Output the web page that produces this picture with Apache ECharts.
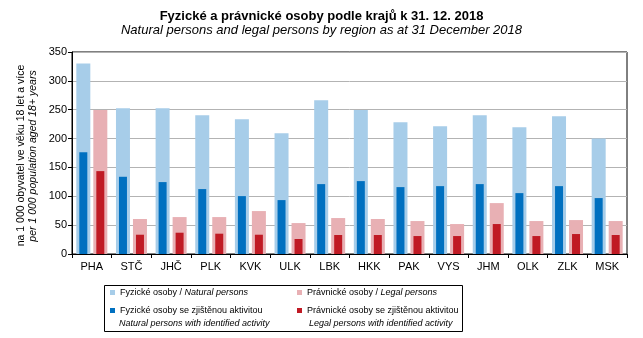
<!DOCTYPE html>
<html>
<head>
<meta charset="utf-8">
<script src="https://cdn.jsdelivr.net/npm/echarts@6/dist/echarts.min.js"></script>
<style>
html,body{margin:0;padding:0;background:#fff;}
#c{width:643px;height:338px;}
</style>
</head>
<body>
<div id="c"></div>
<script>
const categories = ['PHA','STČ','JHČ','PLK','KVK','ULK','LBK','HKK','PAK','VYS','JHM','OLK','ZLK','MSK'];
const natural = [330, 252.6, 252.6, 240.5, 233.6, 209.3, 266.4, 249.7, 228.4, 221.5, 240.5, 219.7, 238.8, 200.1];
const naturalActive = [176.5, 133.8, 124.6, 112.5, 100.3, 93.4, 121.1, 126.3, 115.9, 117.6, 121.1, 105.5, 117.6, 96.9];
const legal = [249.7, 60.6, 64, 64, 74.4, 53.6, 62.3, 60.6, 57.1, 51.9, 88.2, 57.1, 58.8, 57.1];
const legalActive = [143.6, 33.4, 36.9, 35.2, 33.4, 26, 32.9, 32.9, 31.1, 31.1, 51.9, 31.1, 34.6, 32.9];
const yTicks = [0, 50, 100, 150, 200, 250, 300, 350];

const FONT = '"Liberation Sans", Arial, sans-serif';
const names = {
  n: 'Fyzické osoby',
  na: 'Fyzické osoby se zjištěnou aktivitou',
  l: 'Právnické osoby',
  la: 'Právnické osoby se zjištěnou aktivitou'
};
const legendFmt = function (name) {
  if (name === names.n) return name + ' / {i|Natural persons}';
  if (name === names.l) return name + ' / {i|Legal persons}';
  return name;
};
const LF = 9;
const legendText = {
  fontFamily: FONT, fontSize: LF, color: '#000', lineHeight: 13,
  rich: { i: { fontFamily: FONT, fontSize: LF, fontStyle: 'italic', color: '#000', lineHeight: 13 } }
};

const chart = echarts.init(document.getElementById('c'), null, {renderer: 'canvas'});
chart.setOption({
  animation: false,
  backgroundColor: '#fff',
  title: {
    text: 'Fyzické a právnické osoby podle krajů k 31. 12. 2018',
    subtext: 'Natural persons and legal persons by region as at 31 December 2018',
    left: 'center', top: 10, padding: 0, itemGap: 1,
    textStyle: {fontFamily: FONT, fontSize: 13, fontWeight: 'bold', color: '#000'},
    subtextStyle: {fontFamily: FONT, fontSize: 13, fontStyle: 'italic', color: '#000'}
  },
  grid: {left: 72, right: 16, top: 52, bottom: 84, show: true, borderColor: '#000', borderWidth: 1, containLabel: false},
  legend: [
    {orient: 'vertical', left: 110, top: 286, padding: 0, itemGap: 5, itemWidth: 5, itemHeight: 5, icon: 'rect',
     data: [names.n, names.na], formatter: legendFmt, textStyle: legendText},
    {orient: 'vertical', left: 297, top: 286, padding: 0, itemGap: 5, itemWidth: 5, itemHeight: 5, icon: 'rect',
     data: [names.l, names.la], formatter: legendFmt, textStyle: legendText}
  ],
  xAxis: [
    {type: 'category', data: categories, position: 'bottom',
     axisLine: {lineStyle: {color: '#000', width: 1}},
     axisTick: {show: true, alignWithLabel: false, length: 4, lineStyle: {color: '#000'}},
     axisLabel: {fontFamily: FONT, fontSize: 11, color: '#000', margin: 7, interval: 0},
     splitLine: {show: false}},
    {type: 'category', data: categories, show: false, position: 'bottom'}
  ],
  yAxis: {
    type: 'value', min: yTicks[0], max: yTicks[yTicks.length - 1], interval: 50,
    axisLine: {show: true, lineStyle: {color: '#000', width: 1}},
    axisTick: {show: true, length: 4, lineStyle: {color: '#000'}},
    axisLabel: {fontFamily: FONT, fontSize: 11, color: '#000', margin: 5},
    splitLine: {show: true, lineStyle: {color: '#b3b3b3', width: 1}}
  },
  series: [
    {name: names.n, type: 'bar', xAxisIndex: 0, data: natural, barWidth: 14, barGap: '21.4%',
     itemStyle: {color: '#a7cde9'}},
    {name: names.l, type: 'bar', xAxisIndex: 0, data: legal, barWidth: 14, barGap: '21.4%',
     itemStyle: {color: '#e8b0b4'}},
    {name: names.na, type: 'bar', xAxisIndex: 1, data: naturalActive, barWidth: 8, barGap: '112.5%',
     itemStyle: {color: '#0070c0'}},
    {name: names.la, type: 'bar', xAxisIndex: 1, data: legalActive, barWidth: 8, barGap: '112.5%',
     itemStyle: {color: '#c01a24'}}
  ],
  graphic: [
    {type: 'text', x: 21.5, y: 155.5, rotation: Math.PI / 2,
     style: {text: 'na 1 000 obyvatel ve věku 18 let a více', fontFamily: FONT, fontSize: 10.5, fill: '#000',
             textAlign: 'center', textVerticalAlign: 'middle'}},
    {type: 'text', x: 33, y: 156, rotation: Math.PI / 2,
     style: {text: 'per 1 000 population aged 18+ years', fontFamily: FONT, fontSize: 10.5, fontStyle: 'italic', fill: '#000',
             textAlign: 'center', textVerticalAlign: 'middle'}},
    {type: 'text', x: 119, y: 323.5,
     style: {text: 'Natural persons with identified activity', fontFamily: FONT, fontSize: LF, fontStyle: 'italic', fill: '#000',
             textVerticalAlign: 'middle'}},
    {type: 'text', x: 309, y: 323.5,
     style: {text: 'Legal persons with identified activity', fontFamily: FONT, fontSize: LF, fontStyle: 'italic', fill: '#000',
             textVerticalAlign: 'middle'}},
    {type: 'rect', shape: {x: 104.5, y: 285.5, width: 358, height: 46},
     style: {fill: 'none', stroke: '#000', lineWidth: 1}}
  ]
});
</script>
</body>
</html>
